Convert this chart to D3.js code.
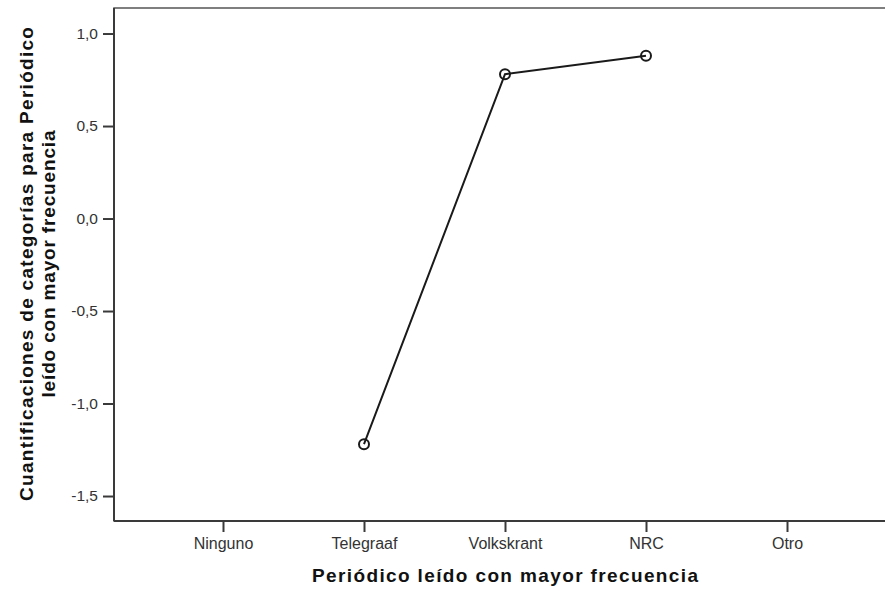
<!DOCTYPE html>
<html>
<head>
<meta charset="utf-8">
<script src="https://d3js.org/d3.v7.min.js"></script>
<style>
  html, body { margin: 0; padding: 0; background: #fff; }
  svg { display: block; }
</style>
</head>
<body>
<svg id="chart" width="885" height="589"></svg>
<script>
const categories = ["Ninguno", "Telegraaf", "Volkskrant", "NRC", "Otro"];
const values = [null, -1.22, 0.78, 0.88, null];
const yTicks = [1.0, 0.5, 0.0, -0.5, -1.0, -1.5];
const xTitle = "Periódico leído con mayor frecuencia";
const yTitleLines = ["Cuantificaciones de categorías para Periódico", "leído con mayor frecuencia"];

const svg = d3.select("#chart");
const W = 885, H = 589;
const m = { left: 114, top: 8, right: 896, bottom: 521 };

const x = d3.scalePoint().domain(categories).range([m.left, m.right]).padding(0.773);
const y = d3.scaleLinear().domain([-1.635, 1.138]).range([m.bottom, m.top]);

const font = "Arial, 'Liberation Sans', sans-serif";
const axisColor = "#3a3a3a";

// frame (top + right)
svg.append("rect")
  .attr("x", m.left).attr("y", m.top)
  .attr("width", m.right - m.left).attr("height", m.bottom - m.top)
  .attr("fill", "none").attr("stroke", "#555").attr("stroke-width", 1.5);

// y axis
const yAxis = d3.axisLeft(y).tickValues(yTicks).tickSize(11).tickPadding(5)
  .tickFormat(d => d3.format(".1f")(d).replace(".", ",").replace("−", "-"));
const gy = svg.append("g").attr("transform", `translate(${m.left},0)`).call(yAxis);
gy.select(".domain").remove();
gy.selectAll(".tick line").attr("stroke", axisColor).attr("stroke-width", 2);
gy.selectAll(".tick text").attr("fill", "#333").style("font-family", font).style("font-size", "15.5px");
svg.append("line").attr("x1", m.left).attr("x2", m.left).attr("y1", m.top).attr("y2", m.bottom)
  .attr("stroke", axisColor).attr("stroke-width", 2);

// x axis
const xAxis = d3.axisBottom(x).tickSize(11).tickPadding(6);
const gx = svg.append("g").attr("transform", `translate(0,${m.bottom})`).call(xAxis);
gx.select(".domain").remove();
gx.selectAll(".tick line").attr("stroke", axisColor).attr("stroke-width", 2);
gx.selectAll(".tick text").attr("fill", "#333").style("font-family", font).style("font-size", "16px");
svg.append("line").attr("x1", m.left).attr("x2", W + 20).attr("y1", m.bottom).attr("y2", m.bottom)
  .attr("stroke", axisColor).attr("stroke-width", 2);

// data line
const pts = categories.map((c, i) => ({ c, v: values[i] })).filter(d => d.v !== null);
svg.append("path").datum(pts)
  .attr("fill", "none").attr("stroke", "#1a1a1a").attr("stroke-width", 2)
  .attr("d", d3.line().x(d => x(d.c)).y(d => y(d.v)));
svg.selectAll("circle.pt").data(pts).enter().append("circle")
  .attr("class", "pt")
  .attr("cx", d => x(d.c)).attr("cy", d => y(d.v)).attr("r", 5)
  .attr("fill", "none").attr("stroke", "#1a1a1a").attr("stroke-width", 2);

// x title
svg.append("text")
  .attr("x", 505).attr("y", 582)
  .attr("text-anchor", "middle")
  .attr("textLength", 386).attr("lengthAdjust", "spacing")
  .style("font-family", font).style("font-size", "19px").style("font-weight", "bold")
  .attr("fill", "#111")
  .text(xTitle);

// y title
const yt = svg.append("text")
  .attr("transform", "translate(0,264) rotate(-90)")
  .attr("text-anchor", "middle")
  .style("font-family", font).style("font-size", "19px").style("font-weight", "bold")
  .attr("fill", "#111");
const yLens = [474, 267];
yTitleLines.forEach((t, i) => {
  yt.append("tspan").attr("x", 0).attr("y", 33 + i * 22)
    .attr("textLength", yLens[i]).attr("lengthAdjust", "spacing")
    .text(t);
});
</script>
</body>
</html>
